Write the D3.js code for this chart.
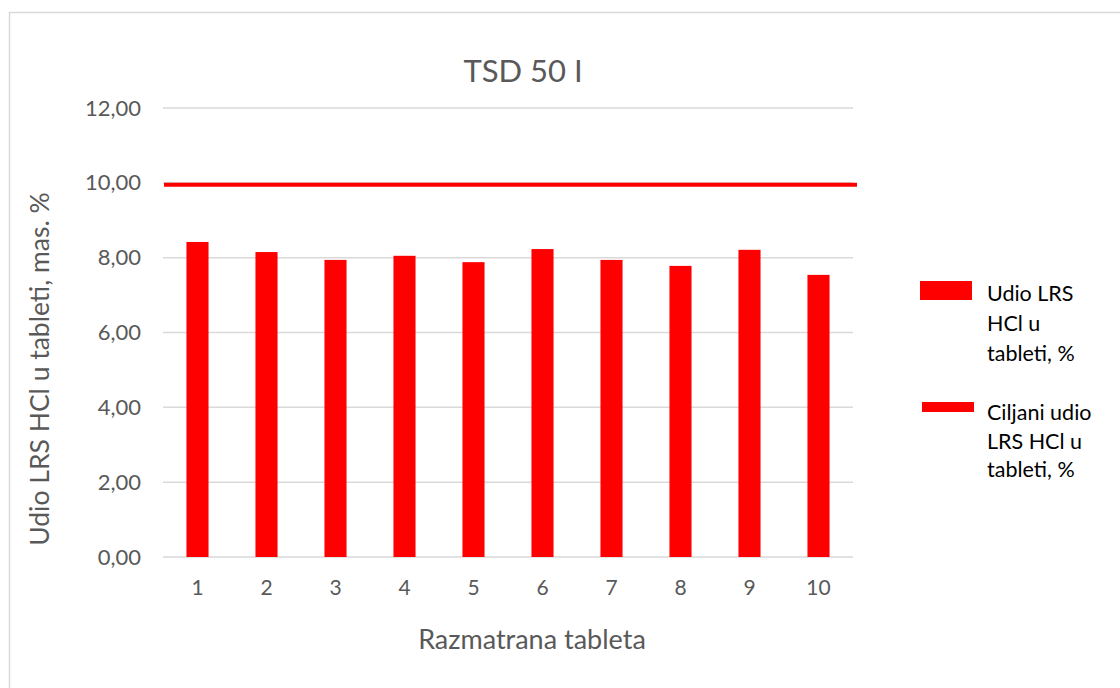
<!DOCTYPE html>
<html>
<head>
<meta charset="utf-8">
<script src="https://cdn.jsdelivr.net/npm/d3@7"></script>
<style>
  body { margin: 0; background: #fff; }
  text { font-family: Lato, "Open Sans", sans-serif; fill: #595959; }
</style>
</head>
<body>
<div id="chart"></div>
<script>
// data
var tablets = ["1", "2", "3", "4", "5", "6", "7", "8", "9", "10"];
var shares = [8.42, 8.15, 7.94, 8.05, 7.88, 8.23, 7.94, 7.78, 8.21, 7.54];
var target = 9.95;
var yTicks = [0, 2, 4, 6, 8, 10, 12];
var legendBar = ["Udio LRS", "HCl u", "tableti, %"];
var legendLine = ["Ciljani udio", "LRS HCl u", "tableti, %"];

var W = 1120, H = 688;
var margin = { top: 108, right: 267, bottom: 131, left: 163 };
var width = W - margin.left - margin.right,
    height = H - margin.top - margin.bottom;

var svg = d3.select("#chart")
  .append("svg")
  .attr("width", W)
  .attr("height", H);

// outer frame
svg.append("rect")
  .attr("x", 9.5).attr("y", 12.5)
  .attr("width", W).attr("height", H)
  .attr("fill", "none")
  .attr("stroke", "#d9d9d9")
  .attr("stroke-width", 1.5);

var g = svg.append("g")
  .attr("transform", "translate(" + margin.left + "," + margin.top + ")");

var x = d3.scaleBand()
  .domain(tablets)
  .range([0, width])
  .paddingInner(0.68)
  .paddingOuter(0.34);

var y = d3.scaleLinear()
  .domain([0, 12])
  .range([height, 0]);

// gridlines
g.selectAll(".grid")
  .data(yTicks)
  .enter().append("line")
  .attr("x1", 0).attr("x2", width)
  .attr("y1", function (d) { return y(d); })
  .attr("y2", function (d) { return y(d); })
  .attr("stroke", "#d9d9d9")
  .attr("stroke-width", 1.5);

// y axis labels
var yAxis = g.append("g")
  .call(d3.axisLeft(y).tickValues(yTicks).tickSize(0).tickPadding(22)
    .tickFormat(function (d) { return d3.format(".2f")(d).replace(".", ","); }));
yAxis.select(".domain").remove();
yAxis.selectAll("text")
  .style("font-size", "22px")
  .style("fill", "#595959")
  .style("font-family", "Lato, sans-serif");

// x axis labels
var xAxis = g.append("g")
  .attr("transform", "translate(0," + height + ")")
  .call(d3.axisBottom(x).tickSize(0).tickPadding(23));
xAxis.select(".domain").remove();
xAxis.selectAll("text")
  .style("font-size", "21px")
  .style("fill", "#595959")
  .style("font-family", "Lato, sans-serif");

// bars
g.selectAll(".bar")
  .data(shares)
  .enter().append("rect")
  .attr("x", function (d, i) { return x(tablets[i]); })
  .attr("y", function (d) { return y(d); })
  .attr("width", x.bandwidth())
  .attr("height", function (d) { return height - y(d); })
  .attr("fill", "#ff0000");

// target line
g.append("line")
  .attr("x1", 1).attr("x2", width + 4)
  .attr("y1", y(target)).attr("y2", y(target))
  .attr("stroke", "#ff0000")
  .attr("stroke-width", 4);

// title
svg.append("text")
  .attr("x", 523).attr("y", 82)
  .attr("text-anchor", "middle")
  .style("font-size", "31px")
  .text("TSD 50 I");

// axis titles
svg.append("text")
  .attr("x", 532).attr("y", 649)
  .attr("text-anchor", "middle")
  .style("font-size", "27px")
  .text("Razmatrana tableta");

svg.append("text")
  .attr("transform", "translate(49,369) rotate(-90)")
  .attr("text-anchor", "middle")
  .style("font-size", "26.5px")
  .text("Udio LRS HCl u tableti, mas. %");

// legend
var leg = svg.append("g");
leg.append("rect")
  .attr("x", 920).attr("y", 281)
  .attr("width", 52).attr("height", 19)
  .attr("fill", "#ff0000");
leg.selectAll(".lb")
  .data(legendBar)
  .enter().append("text")
  .attr("x", 987)
  .attr("y", function (d, i) { return 301 + i * 30; })
  .style("font-size", "21.5px")
  .style("fill", "#000")
  .text(function (d) { return d; });

leg.append("rect")
  .attr("x", 922).attr("y", 402)
  .attr("width", 52).attr("height", 10)
  .attr("fill", "#ff0000");
leg.selectAll(".ll")
  .data(legendLine)
  .enter().append("text")
  .attr("x", 987)
  .attr("y", function (d, i) { return 420 + i * 28.5; })
  .style("font-size", "21.5px")
  .style("fill", "#000")
  .text(function (d) { return d; });
</script>
</body>
</html>
